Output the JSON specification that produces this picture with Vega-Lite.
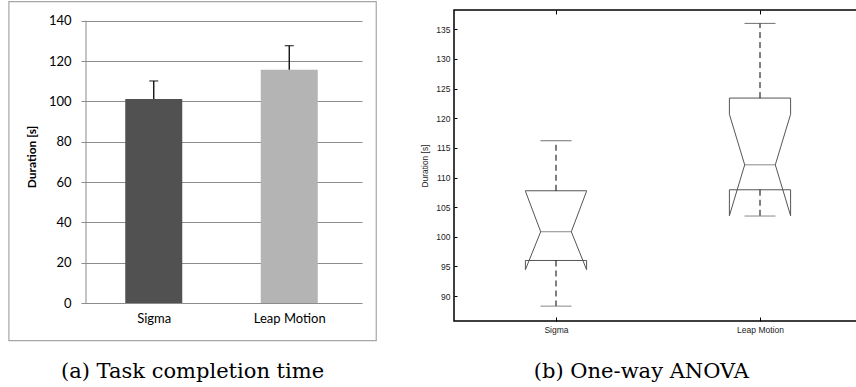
{
  "$schema": "https://vega.github.io/schema/vega-lite/v6.json",
  "padding": {"left": 8, "top": 1, "right": 0, "bottom": 0},
  "background": "white",
  "spacing": 43,
  "config": {"view": {"stroke": null}, "axis": {"grid": false, "domain": false, "ticks": false, "labelOverlap": false, "labelBound": false}},
  "datasets": {
    "bars": [
      {"device": "Sigma", "pos": 1, "mean": 101.2, "upper": 110.1},
      {"device": "Leap Motion", "pos": 2, "mean": 115.7, "upper": 127.6}
    ],
    "stats": [
      {"device": "Sigma", "pos": 1, "lo": 88.3, "q1": 96.0, "med": 100.85, "q3": 107.76, "hi": 116.2},
      {"device": "Leap Motion", "pos": 2, "lo": 103.5, "q1": 107.93, "med": 112.14, "q3": 123.4, "hi": 136.0}
    ],
    "verts": [
      {"device": "Sigma", "k": 0, "x": 0.85, "y": 107.76},
      {"device": "Sigma", "k": 1, "x": 1.15, "y": 107.76},
      {"device": "Sigma", "k": 2, "x": 1.15, "y": 107.7},
      {"device": "Sigma", "k": 3, "x": 1.075, "y": 100.85},
      {"device": "Sigma", "k": 4, "x": 1.15, "y": 94.45},
      {"device": "Sigma", "k": 5, "x": 1.15, "y": 96.0},
      {"device": "Sigma", "k": 6, "x": 0.85, "y": 96.0},
      {"device": "Sigma", "k": 7, "x": 0.85, "y": 94.45},
      {"device": "Sigma", "k": 8, "x": 0.925, "y": 100.85},
      {"device": "Sigma", "k": 9, "x": 0.85, "y": 107.7},
      {"device": "Sigma", "k": 10, "x": 0.85, "y": 107.76},
      {"device": "Leap Motion", "k": 0, "x": 1.85, "y": 123.4},
      {"device": "Leap Motion", "k": 1, "x": 2.15, "y": 123.4},
      {"device": "Leap Motion", "k": 2, "x": 2.15, "y": 120.67},
      {"device": "Leap Motion", "k": 3, "x": 2.075, "y": 112.14},
      {"device": "Leap Motion", "k": 4, "x": 2.15, "y": 103.55},
      {"device": "Leap Motion", "k": 5, "x": 2.15, "y": 107.93},
      {"device": "Leap Motion", "k": 6, "x": 1.85, "y": 107.93},
      {"device": "Leap Motion", "k": 7, "x": 1.85, "y": 103.55},
      {"device": "Leap Motion", "k": 8, "x": 1.925, "y": 112.14},
      {"device": "Leap Motion", "k": 9, "x": 1.85, "y": 120.67},
      {"device": "Leap Motion", "k": 10, "x": 1.85, "y": 123.4}
    ]
  },
  "hconcat": [
    {
      "width": 281,
      "height": 293,
      "title": {"text": "(a) Task completion time", "orient": "bottom", "frame": "bounds", "anchor": "middle", "font": "DejaVu Serif", "fontSize": 21, "fontWeight": "normal", "color": "#000", "offset": 20},
      "data": {"name": "bars"},
      "layer": [
        {
          "data": {"values": [{}]},
          "mark": {"type": "rect", "fillOpacity": 0, "stroke": "#a6a6a6", "strokeWidth": 1.2},
          "encoding": {
            "x": {"datum": -0.069, "type": "quantitative"},
            "x2": {"datum": 2.642},
            "y": {"datum": -18.69, "type": "quantitative"},
            "y2": {"datum": 149.42}
          }
        },
        {
          "data": {"values": [{}]},
          "mark": {"type": "rule", "color": "#8c8c8c", "strokeWidth": 1},
          "encoding": {
            "x": {"datum": 0.5, "type": "quantitative"},
            "y": {"datum": 0, "type": "quantitative"},
            "y2": {"datum": 140}
          }
        },
        {
          "mark": {"type": "bar", "width": 57},
          "encoding": {
            "x": {
              "field": "pos", "type": "quantitative",
              "scale": {"domain": [0.5, 2.5], "nice": false, "zero": false},
              "axis": {"values": [1, 2], "labelExpr": "datum.value == 1 ? 'Sigma' : 'Leap Motion'", "grid": false, "ticks": false, "domain": false, "labelFont": "Lato", "labelFontSize": 13, "labelColor": "#000", "labelPadding": 9, "title": null}
            },
            "y": {
              "field": "mean", "type": "quantitative",
              "scale": {"domain": [0, 145.29], "nice": false, "zero": false},
              "axis": {"values": [0, 20, 40, 60, 80, 100, 120, 140], "grid": true, "gridColor": "#8c8c8c", "gridWidth": 1, "domain": false, "ticks": false, "labelFont": "Lato", "labelFontSize": 13, "labelColor": "#000", "labelPadding": 10, "title": "Duration [s]", "titleFont": "Lato", "titleFontSize": 12, "titleFontWeight": "bold", "titleColor": "#000", "titlePadding": 10}
            },
            "color": {"field": "device", "type": "nominal", "scale": {"domain": ["Sigma", "Leap Motion"], "range": ["#515151", "#b4b4b4"]}, "legend": null}
          }
        },
        {
          "mark": {"type": "rule", "color": "#000", "strokeWidth": 1.3},
          "encoding": {
            "x": {"field": "pos", "type": "quantitative"},
            "y": {"field": "mean", "type": "quantitative"},
            "y2": {"field": "upper"}
          }
        },
        {
          "mark": {"type": "tick", "orient": "horizontal", "color": "#000", "size": 9, "thickness": 1.3},
          "encoding": {
            "x": {"field": "pos", "type": "quantitative"},
            "y": {"field": "upper", "type": "quantitative"}
          }
        }
      ]
    },
    {
      "width": 408,
      "height": 311,
      "view": {"stroke": "#000", "strokeWidth": 1.5},
      "title": {"text": "(b) One-way ANOVA", "orient": "bottom", "frame": "bounds", "anchor": "middle", "font": "DejaVu Serif", "fontSize": 21, "fontWeight": "normal", "color": "#000", "offset": 27},
      "resolve": {"axis": {"x": "independent", "y": "independent"}},
      "layer": [
        {
          "data": {"name": "verts"},
          "mark": {"type": "line", "color": "#555", "strokeWidth": 1},
          "encoding": {
            "x": {
              "field": "x", "type": "quantitative",
              "scale": {"domain": [0.5, 2.5], "nice": false, "zero": false},
              "axis": {"orient": "bottom", "values": [1, 2], "labelExpr": "datum.value == 1 ? 'Sigma' : 'Leap Motion'", "grid": false, "domain": false, "ticks": true, "tickSize": -4, "tickColor": "#000", "labelFont": "Liberation Sans", "labelFontSize": 8.5, "labelColor": "#222", "labelPadding": 8, "title": null}
            },
            "y": {
              "field": "y", "type": "quantitative",
              "scale": {"domain": [85.79, 138.26], "nice": false, "zero": false},
              "axis": {"orient": "left", "values": [90, 95, 100, 105, 110, 115, 120, 125, 130, 135], "labelOverlap": false, "grid": false, "domain": false, "ticks": true, "tickSize": -3, "tickColor": "#000", "labelFont": "Liberation Sans", "labelFontSize": 8.5, "labelColor": "#222", "labelPadding": 7, "title": "Duration [s]", "titleFont": "Liberation Sans", "titleFontSize": 8.4, "titleFontWeight": "normal", "titleColor": "#222", "titlePadding": 6}
            },
            "detail": {"field": "device"},
            "order": {"field": "k", "type": "quantitative"}
          }
        },
        {
          "data": {"name": "stats"},
          "mark": {"type": "rule", "color": "#000", "strokeWidth": 1, "strokeDash": [6, 4]},
          "encoding": {
            "x": {"field": "pos", "type": "quantitative", "axis": null},
            "y": {"field": "q3", "type": "quantitative", "axis": null},
            "y2": {"field": "hi"}
          }
        },
        {
          "data": {"name": "stats"},
          "mark": {"type": "rule", "color": "#000", "strokeWidth": 1, "strokeDash": [6, 4]},
          "encoding": {
            "x": {"field": "pos", "type": "quantitative", "axis": null},
            "y": {"field": "q1", "type": "quantitative", "axis": null},
            "y2": {"field": "lo"}
          }
        },
        {
          "data": {"name": "stats"},
          "mark": {"type": "tick", "orient": "horizontal", "color": "#333", "size": 31, "thickness": 1},
          "encoding": {
            "x": {"field": "pos", "type": "quantitative", "axis": {"orient": "top", "values": [1, 2], "labels": false, "grid": false, "domain": false, "ticks": true, "tickSize": -4, "tickColor": "#000", "title": null}},
            "y": {"field": "hi", "type": "quantitative", "axis": null}
          }
        },
        {
          "data": {"name": "stats"},
          "mark": {"type": "tick", "orient": "horizontal", "color": "#555", "size": 31, "thickness": 1},
          "encoding": {
            "x": {"field": "pos", "type": "quantitative", "axis": null},
            "y": {"field": "lo", "type": "quantitative", "axis": null}
          }
        },
        {
          "data": {"name": "stats"},
          "mark": {"type": "tick", "orient": "horizontal", "color": "#555", "size": 31, "thickness": 1},
          "encoding": {
            "x": {"field": "pos", "type": "quantitative", "axis": null},
            "y": {"field": "med", "type": "quantitative", "axis": null}
          }
        }
      ]
    }
  ]
}
